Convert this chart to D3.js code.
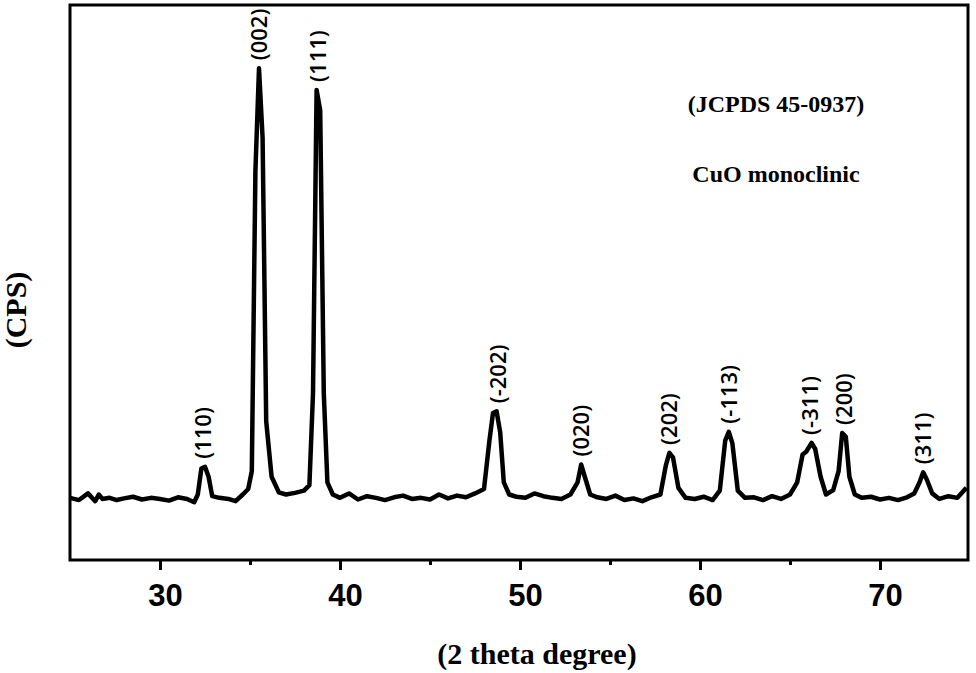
<!DOCTYPE html>
<html><head><meta charset="utf-8">
<script src="https://cdn.jsdelivr.net/npm/d3@7"></script>
<style>body{margin:0;background:#fff}</style>
</head><body><div id="chart"></div>
<script>
// 2 theta values and intensity (CPS, arbitrary)
const theta = [25.0,25.5,26.0,26.4,26.6,26.8,27.2,27.6,28.0,28.5,29.0,29.5,30.0,30.5,31.0,31.5,31.9,32.1,32.3,32.5,32.7,32.9,33.3,33.8,34.2,34.6,34.9,35.1,35.3,35.5,35.7,35.9,36.2,36.6,37.0,37.5,38.0,38.3,38.5,38.7,38.9,39.1,39.3,39.6,40.0,40.5,41.0,41.5,42.0,42.5,43.0,43.5,44.0,44.5,45.0,45.5,46.0,46.5,47.0,47.5,48.0,48.3,48.5,48.7,48.9,49.1,49.4,49.8,50.3,50.8,51.3,51.8,52.3,52.8,53.2,53.4,53.6,53.9,54.3,54.8,55.3,55.8,56.3,56.8,57.3,57.8,58.1,58.3,58.5,58.8,59.2,59.7,60.2,60.7,61.1,61.4,61.6,61.8,62.1,62.5,63.0,63.5,64.0,64.5,65.0,65.4,65.7,65.9,66.2,66.4,66.7,67.0,67.4,67.7,67.9,68.1,68.3,68.6,69.0,69.5,70.0,70.5,71.0,71.5,71.9,72.2,72.4,72.6,72.9,73.3,73.8,74.3,74.8,75.0];
const cps   = [112,108,120,106,118,110,112,108,111,114,109,112,110,107,113,110,104,118,165,168,150,115,112,110,106,118,128,160,700,886,760,250,150,122,118,121,125,135,300,847,810,300,140,118,112,120,109,115,112,108,113,116,110,112,109,118,111,116,113,120,128,215,265,268,230,140,118,114,112,120,115,112,110,118,140,172,150,118,113,110,116,108,111,106,113,118,170,193,185,130,112,110,114,108,125,215,231,210,125,112,113,108,115,110,118,140,190,195,211,200,150,118,126,160,229,222,150,118,112,114,109,112,108,113,120,140,158,145,120,110,115,112,130];
const peakTheta = [32.4,35.5,38.8,48.8,53.4,58.3,61.6,66.1,68.0,72.4];
const peakCps   = [168,886,847,268,172,193,231,211,229,158];
const peakLabels = ["(110)","(002)","(111)","(-202)","(020)","(202)","(-113)","(-311)","(200)","(311)"];
const xTicks = [30,40,50,60,70];
const xMinor = [35,45,55,65];

const W = 976, H = 673;
const svg = d3.select("#chart").append("svg").attr("width", W).attr("height", H);

const x = d3.scaleLinear().domain([25, 75]).range([70, 970]);
const y = d3.scaleLinear().domain([0, 1000]).range([560, 5]);

// frame
svg.append("rect").attr("x", 70).attr("y", 5).attr("width", 898).attr("height", 555)
  .attr("fill", "none").attr("stroke", "#000").attr("stroke-width", 3);

// x axis
const xaxis = d3.axisBottom(x).tickValues(xTicks).tickSize(10).tickFormat(d3.format("d"));
const ax = svg.append("g").attr("transform", "translate(0,560)").call(xaxis);
ax.select(".domain").remove();
ax.selectAll("line").attr("stroke-width", 3);
ax.selectAll("text").attr("dy", "1.05em").attr("dx", 5)
  .style("font-family", "Liberation Sans, Arial").style("font-weight", "bold").style("font-size", "31px");
const mx = svg.append("g").attr("transform", "translate(0,560)")
  .call(d3.axisBottom(x).tickValues(xMinor).tickSize(5).tickFormat(""));
mx.select(".domain").remove();
mx.selectAll("line").attr("stroke-width", 3);

// pattern
const line = d3.line().x((d, i) => x(theta[i])).y(d => y(d));
svg.append("path").datum(cps).attr("d", line).attr("fill", "none")
  .attr("stroke", "#000").attr("stroke-width", 4.5).attr("stroke-linejoin", "round");

// peak labels
svg.selectAll(".pl").data(peakLabels).enter().append("text")
  .attr("transform", (d, i) => "translate(" + (x(peakTheta[i]) + 8) + "," + (y(peakCps[i]) - 8) + ") rotate(-90)")
  .style("font-family", "Open Sans, Liberation Sans").style("font-weight", "600").style("font-size", "22px")
  .text(d => d);

// annotations
const serif = "Liberation Serif, Times New Roman";
svg.append("text").attr("x", 776).attr("y", 112).attr("text-anchor", "middle")
  .style("font-family", serif).style("font-weight", "bold").style("font-size", "24px").text("(JCPDS 45-0937)");
svg.append("text").attr("x", 776).attr("y", 182).attr("text-anchor", "middle")
  .style("font-family", serif).style("font-weight", "bold").style("font-size", "24px").text("CuO monoclinic");
svg.append("text").attr("transform", "translate(26,310) rotate(-90)").attr("text-anchor", "middle")
  .style("font-family", serif).style("font-weight", "bold").style("font-size", "30px").text("(CPS)");
svg.append("text").attr("x", 537).attr("y", 664).attr("text-anchor", "middle")
  .style("font-family", serif).style("font-weight", "bold").style("font-size", "30px").text("(2 theta degree)");
</script></body></html>
